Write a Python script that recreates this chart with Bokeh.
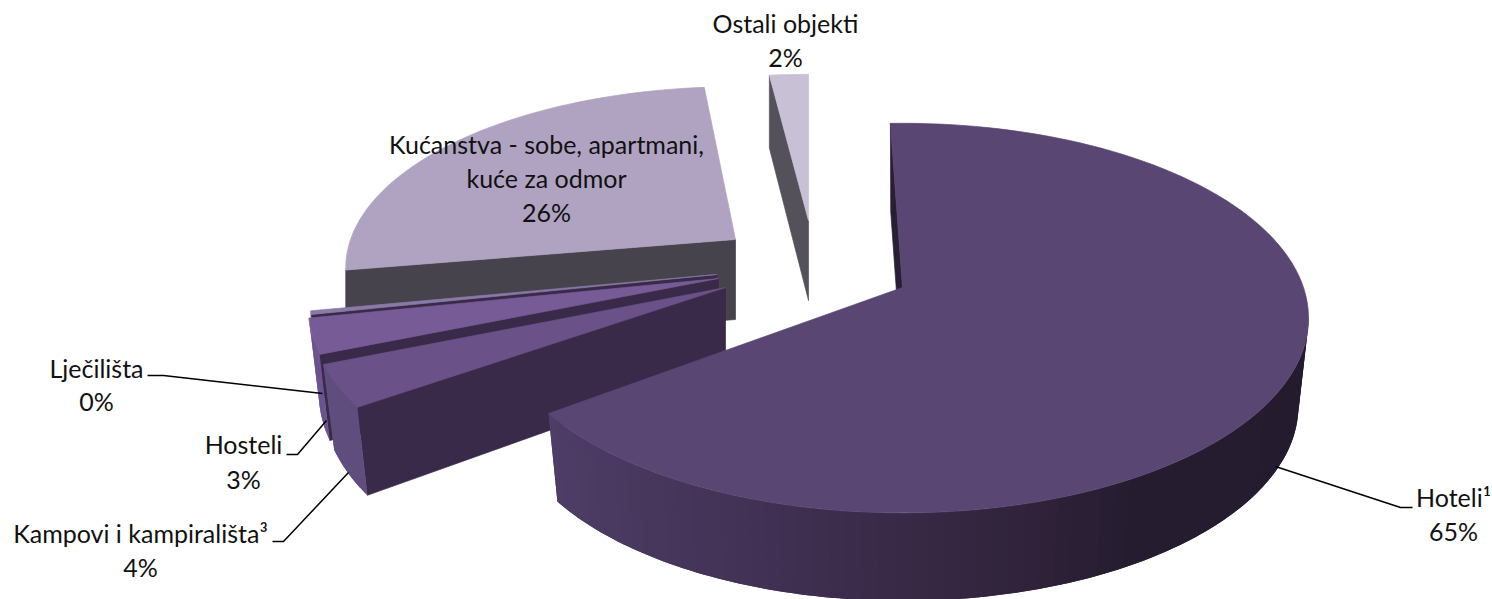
import numpy as np
from bokeh.plotting import figure
from bokeh.models import Range1d
from bokeh.core.properties import value
from bokeh.embed import file_html
from bokeh.resources import INLINE

# ---- data (clockwise from the top of the pie)
CATEGORIES = ["Hoteli¹", "Kampovi i kampirališta³", "Hosteli", "Lječilišta",
              "Kućanstva - sobe, apartmani,\nkuće za odmor", "Ostali objekti"]
SHARE_LABELS = ["65%", "4%", "3%", "0%", "26%", "2%"]
SHARES = [65.3, 3.5, 2.9, 0.3, 26.2, 1.8]

# ---- projection of the tilted disc
START_DEG = -2.0
A, B, P = 401.0, 190.0, 0.157

# ---- per-slice styling and explosion (same order as CATEGORIES)
APEX = [(902, 287), (725, 287), (718, 278), (716, 274), (735, 239), (808, 220)]
NUDGE = [0, 1.9, 2.24, 2.1, 3.1, 2.0]
RX = [1, 1.02, 1.01, 1, 0.96, 1.0]
RY = [1, 1, 1, 1, 0.93, 0.89]
DEPTH = [88, 80, 80, 80, 80, 80]
SX = [0.975, 0.973, 0.975, 0.975, 1.0, 1.0]
SY = [1.0, 1.067, 1.08, 1.08, 1.0, 1.05]
TOP = ["#5a4673", "#6a5288", "#775b96", "#8a7aa8", "#b0a3c1", "#c8c0d4"]
SIDE = ["#291f35", "#3a2a4a", "#3a2a4a", "#3a2a4a", "#47434d", "#55515a"]
OUTER = ["", "#5f4d7e", "#6a5490", "#6a5490", "#47434d", "#55515a"]
HOTEL_GRAD_DEG = [99, 150, 175, 200, 234]
HOTEL_GRAD_RGB = [(36, 27, 46), (38, 28, 48), (54, 39, 66), (66, 50, 86), (79, 63, 104)]
PAINT_ORDER = [5, 4, 3, 2, 1, 0]

# ---- annotation layout
LEADERS = [
    [(1275, 466), (1400, 507), (1412, 507)],
    [(348, 472), (283, 541), (272, 541)],
    [(326, 420), (297, 454), (286, 454)],
    [(322, 393), (163, 375), (147, 375)],
]
TEXT_ROWS = [
    ("Ostali objekti", 785, 22), ("2%", 785, 56),
    ("Kućanstva - sobe, apartmani,", 546, 143), ("kuće za odmor", 546, 177), ("26%", 546, 211),
    ("Lječilišta", 96, 367), ("0%", 96, 400),
    ("Hosteli", 243, 443), ("3%", 243, 478),
    ("Kampovi i kampirališta³", 140, 532), ("4%", 140, 566),
    ("Hoteli¹", 1453, 496), ("65%", 1453, 530),
]


def rim(theta, i):
    u, v = np.sin(theta), np.cos(theta)
    w = 1 + P * v
    return A * u / w * RX[i], -B * v / w * RY[i]


def top_pt(theta, i):
    X, Y = rim(theta, i)
    return APEX[i][0] + X, APEX[i][1] + Y


def bot_pt(theta, i):
    X, Y = rim(theta, i)
    return APEX[i][0] + SX[i] * X, APEX[i][1] + DEPTH[i] + SY[i] * Y


def hexc(rgb):
    return "#%02x%02x%02x" % tuple(int(round(c)) for c in rgb)


xs, ys, colors, strokes = [], [], [], []


def add(px, py, c, lw=0.7):
    xs.append(list(px))
    ys.append(list(py))
    colors.append(c)
    strokes.append(lw)


cum = np.cumsum([0] + SHARES)
for i in PAINT_ORDER:
    t0 = np.radians(START_DEG + cum[i] * 3.6 + NUDGE[i])
    t1 = np.radians(START_DEG + cum[i + 1] * 3.6 + NUDGE[i])
    ax, ay = APEX[i]
    # radial walls that face the viewer
    for t, normal in ((t0, t0 - np.pi / 2), (t1, t1 + np.pi / 2)):
        if np.cos(normal) < 0:
            tx, ty = top_pt(t, i)
            bx, by = bot_pt(t, i)
            add([ax, tx, bx, ax], [ay, ty, by, ay + DEPTH[i]], SIDE[i])
    # outer wall, in bands that overlap the next one so that no seams show
    th = np.linspace(t0, t1, max(int(np.degrees(t1 - t0) / 2), 2) + 1)
    n = len(th) - 1
    for k in range(n):
        a, b = th[k], th[k + 1]
        mid = (a + b) / 2
        if np.cos(mid) < -P:
            e = th[min(k + 2, n)]
            sweep = np.linspace(a, e, 5)
            tpx, tpy = top_pt(sweep, i)
            bpx, bpy = bot_pt(sweep, i)
            if i == 0:
                rgb = [np.interp(np.degrees(mid), HOTEL_GRAD_DEG, [g[m] for g in HOTEL_GRAD_RGB]) for m in range(3)]
                c = hexc(rgb)
            else:
                c = OUTER[i]
            add(list(tpx) + list(bpx[::-1]), list(tpy) + list(bpy[::-1]), c, 0)
    # top face
    px, py = top_pt(th, i)
    add([ax] + list(px), [ay] + list(py), TOP[i])

p = figure(width=1492, height=599, x_range=Range1d(0, 1492), y_range=Range1d(599, 0),
           output_backend="svg", toolbar_location=None, min_border=0)
p.axis.visible = False
p.grid.visible = False
p.outline_line_color = None
p.styles = {"position": "absolute", "left": "0px", "top": "0px"}

p.patches(xs, ys, fill_color=colors, line_color=colors, line_width=strokes)

for seg in LEADERS:
    p.line([q[0] for q in seg], [q[1] for q in seg], line_color="#000000", line_width=1.5)

p.text([r[1] for r in TEXT_ROWS], [r[2] for r in TEXT_ROWS], text=[r[0] for r in TEXT_ROWS],
       text_font=value("Lato"), text_font_size="25px", text_color="#111111",
       text_align="center", text_baseline="middle")

open("out.html", "w").write(file_html(p, INLINE))
